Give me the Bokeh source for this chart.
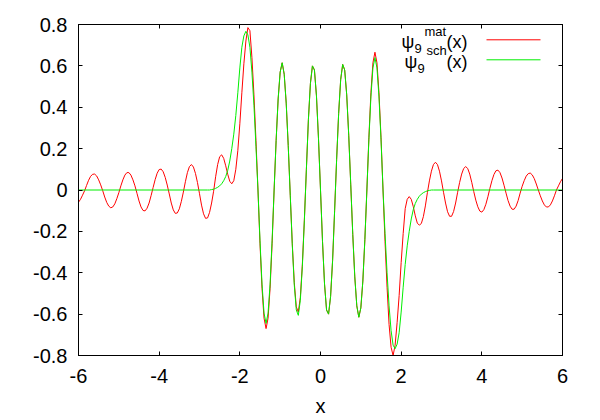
from bokeh.plotting import figure
from bokeh.models import (Range1d, LinearAxis, FixedTicker, CustomJSTickFormatter,
                          Label, Arrow)
from bokeh.embed import file_html
from bokeh.resources import INLINE

# ---------------- data ----------------
x_ticks = [-6, -4, -2, 0, 2, 4, 6]
y_ticks = [-0.8, -0.6, -0.4, -0.2, 0.0, 0.2, 0.4, 0.6, 0.8]

# psi_9^mat(x) : matrix-method wavefunction (red)
mat_x = [
    -6.00, -5.95, -5.90, -5.85, -5.80, -5.75, -5.70, -5.65, -5.60, -5.55,
    -5.50, -5.45, -5.40, -5.35, -5.30, -5.25, -5.20, -5.15, -5.10, -5.05,
    -5.00, -4.95, -4.90, -4.85, -4.80, -4.75, -4.70, -4.65, -4.60, -4.55,
    -4.50, -4.45, -4.40, -4.35, -4.30, -4.25, -4.20, -4.15, -4.10, -4.05,
    -4.00, -3.95, -3.90, -3.85, -3.80, -3.75, -3.70, -3.65, -3.60, -3.55,
    -3.50, -3.45, -3.40, -3.35, -3.30, -3.25, -3.20, -3.15, -3.10, -3.05,
    -3.00, -2.95, -2.90, -2.85, -2.80, -2.75, -2.70, -2.65, -2.60, -2.55,
    -2.50, -2.45, -2.40, -2.35, -2.30, -2.25, -2.20, -2.15, -2.10, -2.05,
    -2.00, -1.95, -1.90, -1.85, -1.80, -1.75, -1.70, -1.65, -1.60, -1.55,
    -1.50, -1.45, -1.40, -1.35, -1.30, -1.25, -1.20, -1.15, -1.10, -1.05,
    -1.00, -0.95, -0.90, -0.85, -0.80, -0.75, -0.70, -0.65, -0.60, -0.55,
    -0.50, -0.45, -0.40, -0.35, -0.30, -0.25, -0.20, -0.15, -0.10, -0.05,
    0.00, 0.05, 0.10, 0.15, 0.20, 0.25, 0.30, 0.35, 0.40, 0.45,
    0.50, 0.55, 0.60, 0.65, 0.70, 0.75, 0.80, 0.85, 0.90, 0.95,
    1.00, 1.05, 1.10, 1.15, 1.20, 1.25, 1.30, 1.35, 1.40, 1.45,
    1.50, 1.55, 1.60, 1.65, 1.70, 1.75, 1.80, 1.85, 1.90, 1.95,
    2.00, 2.05, 2.10, 2.15, 2.20, 2.25, 2.30, 2.35, 2.40, 2.45,
    2.50, 2.55, 2.60, 2.65, 2.70, 2.75, 2.80, 2.85, 2.90, 2.95,
    3.00, 3.05, 3.10, 3.15, 3.20, 3.25, 3.30, 3.35, 3.40, 3.45,
    3.50, 3.55, 3.60, 3.65, 3.70, 3.75, 3.80, 3.85, 3.90, 3.95,
    4.00, 4.05, 4.10, 4.15, 4.20, 4.25, 4.30, 4.35, 4.40, 4.45,
    4.50, 4.55, 4.60, 4.65, 4.70, 4.75, 4.80, 4.85, 4.90, 4.95,
    5.00, 5.05, 5.10, 5.15, 5.20, 5.25, 5.30, 5.35, 5.40, 5.45,
    5.50, 5.55, 5.60, 5.65, 5.70, 5.75, 5.80, 5.85, 5.90, 5.95,
    6.00,
]
mat_y = [
    -0.059, -0.045, -0.025, -0.004, 0.022, 0.047, 0.066, 0.076, 0.077, 0.068,
    0.049, 0.025, -0.003, -0.034, -0.060, -0.078, -0.086, -0.082, -0.067, -0.042,
    -0.013, 0.020, 0.049, 0.072, 0.084, 0.084, 0.072, 0.049, 0.020, -0.016,
    -0.053, -0.082, -0.099, -0.101, -0.088, -0.063, -0.027, 0.012, 0.050, 0.081,
    0.099, 0.101, 0.088, 0.061, 0.024, -0.019, -0.063, -0.096, -0.113, -0.111,
    -0.091, -0.055, -0.010, 0.040, 0.084, 0.113, 0.123, 0.111, 0.080, 0.036,
    -0.018, -0.073, -0.115, -0.137, -0.135, -0.108, -0.063, -0.006, 0.064, 0.123,
    0.161, 0.170, 0.153, 0.117, 0.076, 0.042, 0.030, 0.045, 0.100, 0.190,
    0.320, 0.470, 0.610, 0.720, 0.785, 0.770, 0.640, 0.460, 0.240, 0.000,
    -0.260, -0.475, -0.620, -0.670, -0.620, -0.475, -0.260, 0.000, 0.240, 0.440,
    0.570, 0.615, 0.560, 0.420, 0.215, -0.025, -0.258, -0.448, -0.565, -0.590,
    -0.519, -0.360, -0.144, 0.100, 0.340, 0.515, 0.600, 0.580, 0.455, 0.250,
    0.000, -0.250, -0.455, -0.580, -0.600, -0.515, -0.340, -0.100, 0.148, 0.370,
    0.533, 0.607, 0.580, 0.460, 0.265, 0.025, -0.215, -0.420, -0.560, -0.615,
    -0.570, -0.440, -0.240, 0.000, 0.255, 0.470, 0.615, 0.666, 0.615, 0.470,
    0.255, 0.000, -0.250, -0.470, -0.650, -0.760, -0.800, -0.750, -0.640, -0.510,
    -0.350, -0.210, -0.090, -0.045, -0.032, -0.045, -0.080, -0.125, -0.160, -0.170,
    -0.162, -0.129, -0.077, -0.013, 0.044, 0.091, 0.123, 0.134, 0.123, 0.091,
    0.044, -0.011, -0.063, -0.105, -0.127, -0.127, -0.104, -0.063, -0.011, 0.037,
    0.077, 0.104, 0.113, 0.104, 0.077, 0.037, -0.008, -0.049, -0.081, -0.102,
    -0.107, -0.095, -0.069, -0.033, 0.008, 0.045, 0.075, 0.093, 0.096, 0.084,
    0.058, 0.023, -0.015, -0.051, -0.078, -0.093, -0.093, -0.078, -0.051, -0.015,
    0.018, 0.045, 0.067, 0.079, 0.082, 0.073, 0.055, 0.029, 0.000, -0.028,
    -0.053, -0.072, -0.082, -0.082, -0.072, -0.053, -0.028, 0.000, 0.020, 0.040,
    0.056,
]

# psi_9^sch(x) : Schroedinger-equation wavefunction (green)
sch_x = [
    -6.00,
    -2.80, -2.75, -2.70, -2.65, -2.60, -2.55, -2.50, -2.45, -2.40, -2.35,
    -2.30, -2.25, -2.20, -2.15, -2.10, -2.05, -2.00, -1.95, -1.90, -1.85,
    -1.80, -1.75, -1.70, -1.65, -1.60, -1.55, -1.50, -1.45, -1.40, -1.35,
    -1.30, -1.25, -1.20, -1.15, -1.10, -1.05, -1.00, -0.95, -0.90, -0.85,
    -0.80, -0.75, -0.70, -0.65, -0.60, -0.55, -0.50, -0.45, -0.40, -0.35,
    -0.30, -0.25, -0.20, -0.15, -0.10, -0.05, 0.00, 0.05, 0.10, 0.15,
    0.20, 0.25, 0.30, 0.35, 0.40, 0.45, 0.50, 0.55, 0.60, 0.65,
    0.70, 0.75, 0.80, 0.85, 0.90, 0.95, 1.00, 1.05, 1.10, 1.15,
    1.20, 1.25, 1.30, 1.35, 1.40, 1.45, 1.50, 1.55, 1.60, 1.65,
    1.70, 1.75, 1.80, 1.85, 1.90, 1.95, 2.00, 2.05, 2.10, 2.15,
    2.20, 2.25, 2.30, 2.35, 2.40, 2.45, 2.50, 2.55, 2.60, 2.65,
    2.70, 2.75, 2.80,
    6.00,
]
sch_y = [
    0.000,
    0.000, 0.000, 0.002, 0.004, 0.008, 0.013, 0.020, 0.030, 0.045, 0.065,
    0.095, 0.140, 0.200, 0.270, 0.360, 0.470, 0.590, 0.690, 0.745, 0.767,
    0.750, 0.690, 0.570, 0.410, 0.210, 0.000, -0.245, -0.455, -0.595, -0.645,
    -0.595, -0.455, -0.245, 0.000, 0.240, 0.440, 0.570, 0.615, 0.560, 0.420,
    0.215, -0.025, -0.265, -0.460, -0.580, -0.606, -0.533, -0.370, -0.148, 0.100,
    0.340, 0.515, 0.600, 0.580, 0.455, 0.250, 0.000, -0.250, -0.455, -0.580,
    -0.600, -0.515, -0.340, -0.100, 0.148, 0.370, 0.533, 0.607, 0.580, 0.460,
    0.265, 0.025, -0.215, -0.420, -0.560, -0.615, -0.570, -0.440, -0.240, 0.000,
    0.245, 0.450, 0.590, 0.640, 0.590, 0.450, 0.245, 0.000, -0.210, -0.400,
    -0.560, -0.680, -0.750, -0.767, -0.745, -0.690, -0.590, -0.470, -0.360, -0.270,
    -0.200, -0.140, -0.095, -0.065, -0.045, -0.030, -0.020, -0.013, -0.008, -0.004,
    -0.002, 0.000, 0.000,
    0.000,
]

# ---------------- figure ----------------
FONT = "Liberation Sans"
RED = "#ff0000"
GREEN = "#00ee00"

p = figure(width=600, height=420,
           x_range=Range1d(-6, 6), y_range=Range1d(-0.8, 0.8),
           output_backend="svg", toolbar_location=None,
           min_border_left=78, min_border_right=38,
           min_border_top=24, min_border_bottom=65)
p.background_fill_color = "white"
p.border_fill_color = "white"
p.grid.visible = False
p.outline_line_color = "black"
p.outline_line_width = 1

fmt = CustomJSTickFormatter(code="return Number(tick.toFixed(2)).toString();")
blank = CustomJSTickFormatter(code="return '';")

bottom = p.below[0]
left = p.left[0]
bottom.ticker = FixedTicker(ticks=x_ticks)
bottom.formatter = fmt
bottom.axis_label = "x"
left.ticker = FixedTicker(ticks=y_ticks)
left.formatter = fmt

top = LinearAxis(ticker=FixedTicker(ticks=x_ticks), formatter=blank)
right = LinearAxis(ticker=FixedTicker(ticks=y_ticks), formatter=blank)
p.add_layout(top, "above")
p.add_layout(right, "right")

for ax in (bottom, left, top, right):
    ax.axis_line_color = "black"
    ax.major_tick_line_color = "black"
    ax.major_tick_in = 4
    ax.major_tick_out = 0
    ax.minor_tick_line_color = None
    ax.major_label_text_font = FONT
    ax.major_label_text_font_size = "20px"
    ax.major_label_text_color = "black"
    ax.axis_label_text_font = FONT
    ax.axis_label_text_font_size = "20px"
    ax.axis_label_text_font_style = "normal"
    ax.axis_label_text_color = "black"
top.major_label_standoff = 0
right.major_label_standoff = 0
bottom.major_label_standoff = 13
bottom.axis_label_standoff = 9
left.major_label_standoff = 11

p.line(mat_x, mat_y, line_color=RED, line_width=1)
p.line(sch_x, sch_y, line_color=GREEN, line_width=1)

# key (gnuplot style: text right-justified, sample line to its right)
p.add_layout(Arrow(start=None, end=None, x_start=408, y_start=315.7, x_end=462, y_end=315.7,
                   start_units="screen", end_units="screen", line_color=RED, line_width=1))
p.add_layout(Arrow(start=None, end=None, x_start=408, y_start=295.7, x_end=462, y_end=295.7,
                   start_units="screen", end_units="screen", line_color=GREEN, line_width=1))

def lab(x, y, t, size):
    p.add_layout(Label(x=x, y=y, x_units="screen", y_units="screen", text=t,
                       text_font=FONT, text_font_size=size, text_color="black",
                       text_baseline="middle", text_align="left"))

lab(323, 313.5, "\u03c8", "18px")
lab(336, 307, "9", "13px")
lab(346, 324, "mat", "13px")
lab(368, 313.5, "(x)", "18px")

lab(326, 293.5, "\u03c8", "18px")
lab(339, 287, "9", "13px")
lab(348, 305, "sch", "13px")
lab(368, 293.5, "(x)", "18px")

open("out.html", "w").write(file_html(p, INLINE))
